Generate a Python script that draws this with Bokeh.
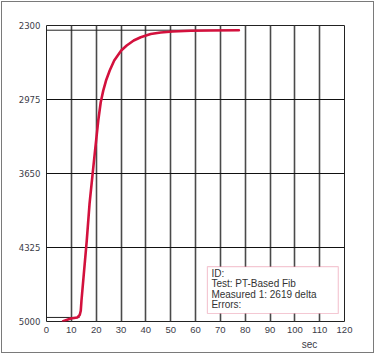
from bokeh.plotting import figure
from bokeh.models import Range1d, FixedTicker, BoxAnnotation, Label, LinearAxis
from bokeh.embed import file_html
from bokeh.resources import INLINE

# ---- data ----
time_sec = [6.68, 9.77, 12.47, 13.40, 13.80, 14.08, 16.21, 17.34, 18.50, 19.55, 20.84,
            21.84, 22.85, 23.97, 25.46, 27.27, 30.09, 32.30, 35.12, 37.93, 41.95,
            45.98, 50.80, 58.05, 66.09, 77.47]
reading = [4998, 4973, 4963, 4939, 4902, 4811, 4263, 3925, 3670, 3441, 3167,
           3000, 2894, 2802, 2711, 2620, 2528, 2483, 2437, 2407, 2378,
           2364, 2355, 2348, 2346, 2343]
start_level = 4963
end_level = 2343
start_end_x = [0, 13.3]
final_end_x = [0, 77.5]
x_ticks = [0, 10, 20, 30, 40, 50, 60, 70, 80, 90, 100, 110, 120]
y_ticks = [2300, 2975, 3650, 4325, 5000]
unit_label = "sec"
unit_pos = 105.9
info_lines = ["ID:", "Test: PT-Based Fib", "Measured 1: 2619 delta", "Errors:"]

FONT = "Liberation Sans, Arial, sans-serif"
NARROW = "Liberation Sans Narrow, Arial Narrow, DejaVu Sans Condensed, sans-serif"

p = figure(width=375, height=354, output_backend="svg", toolbar_location=None,
           x_range=Range1d(0, 120), y_range=Range1d(5000, 2300),
           min_border_left=46, min_border_right=31, min_border_top=25, min_border_bottom=33)
p.styles = {"outline": "1px solid #7a7a7a", "outline-offset": "-2px", "background-color": "white"}
p.background_fill_color = "white"
p.border_fill_color = None
p.outline_line_color = "#222222"
p.outline_line_width = 1

# grid
p.xaxis.ticker = FixedTicker(ticks=x_ticks)
p.yaxis.ticker = FixedTicker(ticks=y_ticks)
p.xgrid.grid_line_color = "#4a4a4a"
p.xgrid.grid_line_width = 1.6
p.xgrid.grid_line_alpha = 1
p.ygrid.grid_line_color = "#111111"
p.ygrid.grid_line_width = 1
p.ygrid.grid_line_alpha = 1

# unit label as a second bottom axis carrying a single tick
unit_axis = LinearAxis(ticker=FixedTicker(ticks=[unit_pos]),
                       major_label_overrides={unit_pos: unit_label})
p.add_layout(unit_axis, "below")

for ax in (p.xaxis[0], p.yaxis[0], unit_axis):
    ax.axis_line_color = None
    ax.major_tick_line_color = None
    ax.minor_tick_line_color = None
    ax.major_tick_in = 0
    ax.major_tick_out = 0
    ax.major_label_text_color = "#3c3c48"
    ax.major_label_text_font_size = "9.5px"
    ax.major_label_text_font = FONT
p.yaxis[0].major_label_text_font = NARROW
p.xaxis[0].major_label_standoff = 5
p.yaxis[0].major_label_standoff = 6
unit_axis.major_label_standoff = 3
unit_axis.major_label_text_font_size = "10px"

# start / final reference levels
p.line(start_end_x, [start_level, start_level], line_color="#222222", line_width=1)
p.line(final_end_x, [end_level, end_level], line_color="#222222", line_width=1)

# curve
p.line(time_sec, reading, line_color="#d3113d", line_width=2.6, line_join="round", line_cap="round")

# info box
p.add_layout(BoxAnnotation(left=64.8, right=117.5, top=4500, bottom=4927,
                           fill_color="white", fill_alpha=1,
                           line_color="#d9486e", line_width=1.2))
line_y = [4558, 4653, 4750, 4841]
for txt, yy in zip(info_lines, line_y):
    p.add_layout(Label(x=66.4, y=yy, text=txt, text_font=FONT, text_font_size="10px",
                       text_color="#333333", text_baseline="middle", text_align="left"))

open("out.html", "w").write(file_html(p, INLINE))
